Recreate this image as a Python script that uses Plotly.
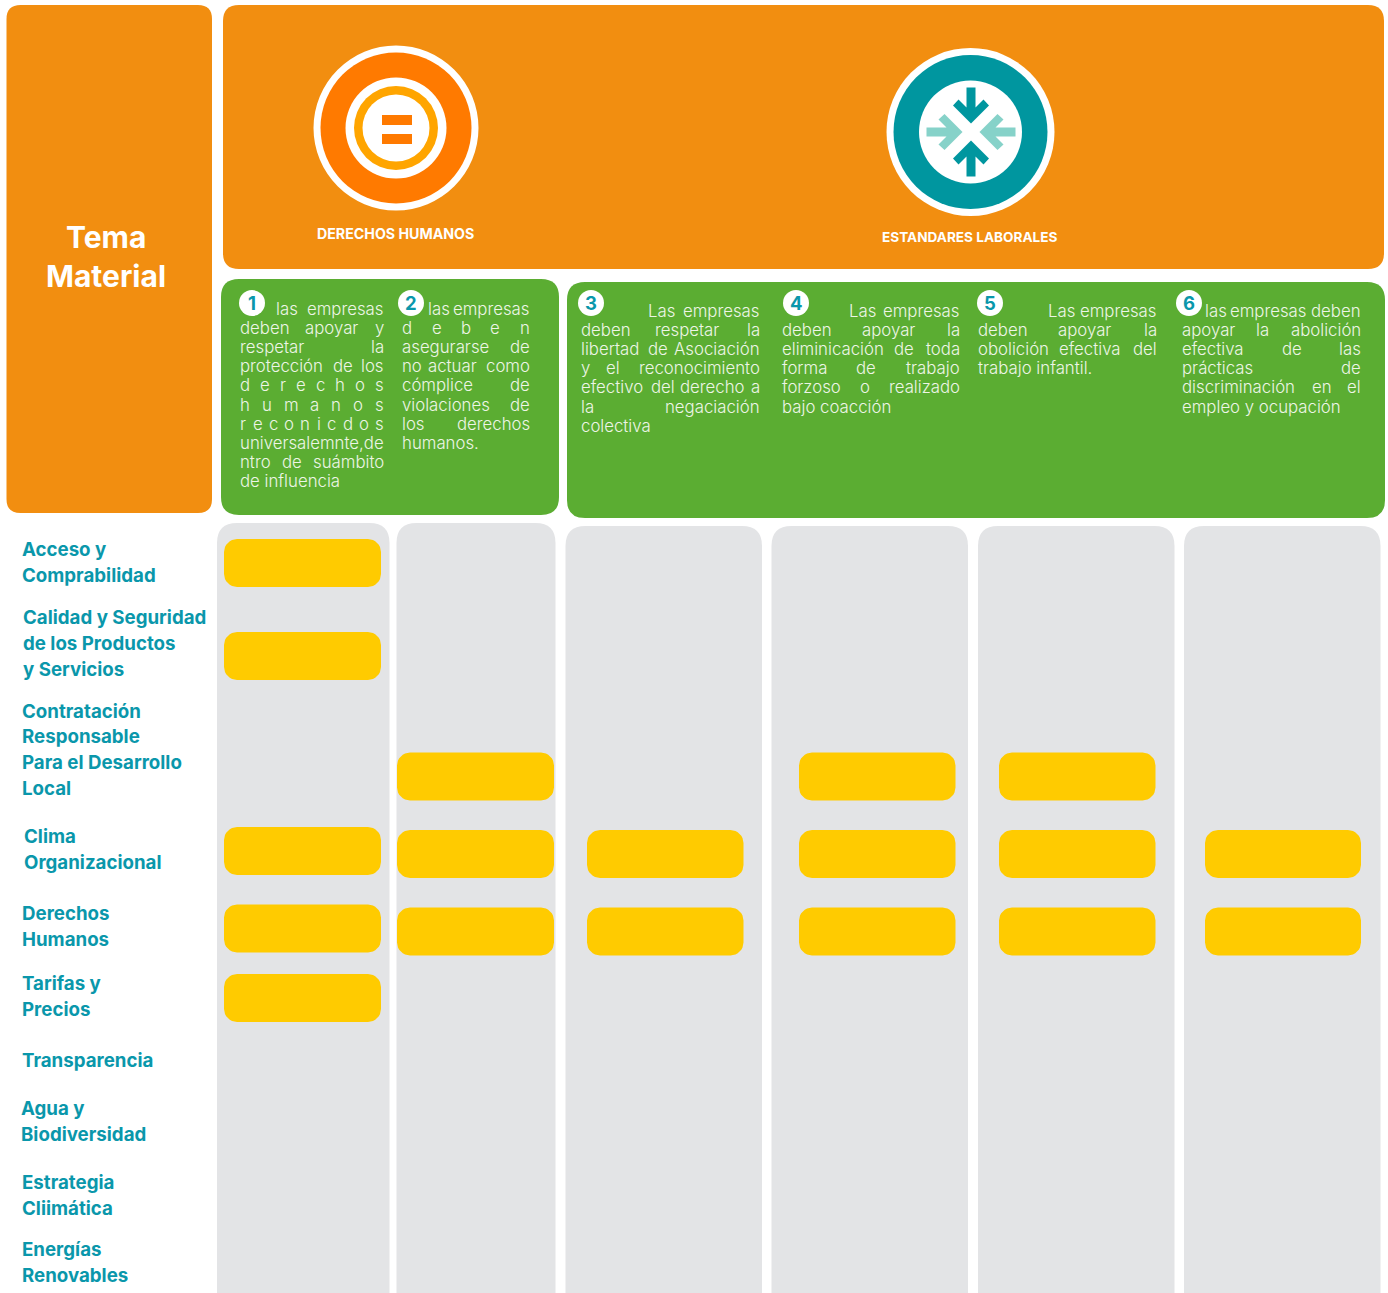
import math
import plotly.graph_objects as go

# ---------- data ----------
title_lines = ["Tema", "Material"]
groups = ["DERECHOS HUMANOS", "ESTANDARES LABORALES"]
topics = [
    ["Acceso y", "Comprabilidad"],
    ["Calidad y Seguridad", "de los Productos", "y Servicios"],
    ["Contratación", "Responsable", "Para el Desarrollo", "Local"],
    ["Clima", "Organizacional"],
    ["Derechos", "Humanos"],
    ["Tarifas y", "Precios"],
    ["Transparencia"],
    ["Agua y", "Biodiversidad"],
    ["Estrategia", "Cliimática"],
    ["Energías", "Renovables"],
]
principle_numbers = ["1", "2", "3", "4", "5", "6"]
principle_text = [
    ["las empresas", "deben apoyar y", "respetar la", "protección de los", "d e r e c h o s",
     "h u m a n o s", "r e c o n i c d o s", "universalemnte,de", "ntro de suámbito", "de influencia"],
    ["las empresas", "d e b e n", "asegurarse de", "no actuar como", "cómplice de",
     "violaciones de", "los derechos", "humanos."],
    ["Las empresas", "deben respetar la", "libertad de Asociación", "y el reconocimiento",
     "efectivo del derecho a", "la negaciación", "colectiva"],
    ["Las empresas", "deben apoyar la", "eliminicación de toda", "forma de trabajo",
     "forzoso o realizado", "bajo coacción"],
    ["Las empresas", "deben apoyar la", "obolición efectiva del", "trabajo infantil."],
    ["las empresas deben", "apoyar la abolición", "efectiva de las", "prácticas de",
     "discriminación en el", "empleo y ocupación"],
]
# topic indices marked under each principle
marked = [
    [0, 1, 3, 4, 5],
    [2, 3, 4],
    [3, 4],
    [2, 3, 4],
    [2, 3, 4],
    [3, 4],
]

# ---------- layout constants (pixels of the canvas) ----------
W, H = 1388, 1293
ORANGE, GREEN, GREY, YELLOW = "#F28E10", "#5BAD32", "#E3E4E6", "#FFCB00"
TEAL, LTEAL, HOT, AMBER = "#00969F", "#86D2C9", "#FF7A00", "#FFA500"
LABEL = "#0A97AB"
BODY_FONT = "Inter"
BODY_SIZE = 16.8

panels = [(6.5, 212, 5, 513, 14, ORANGE), (223, 1384, 5, 269, 16, ORANGE),
          (221, 559, 279, 515, 18, GREEN), (567, 1385, 282, 518, 18, GREEN)]
columns = [(217, 389.5, 523), (396.5, 555.5, 523), (565.5, 762, 526),
           (771.5, 968, 526), (978, 1174.5, 526), (1184, 1380.5, 526)]
pill_x = [(224, 381), (397, 554), (587, 743.5), (799, 955.5), (999, 1155.5), (1205, 1361)]
pill_top = [542, 635, 752.5, 830, 907.5, 977]
pill_dy = [-3, 0, 0, 0, 0, 0]
PILL_H, PILL_R = 48, 13

topic_x = [22, 23, 22, 24, 22, 22, 22, 20.5, 22, 22]
topic_y = [549, 617, 711, 836, 913, 983, 1060, 1108, 1182, 1249]
topic_step = [26, 26, 25.7, 26, 26, 26, 26, 26, 26, 26]

body_x = [(240, 384), (402, 529.5), (581, 759.5), (782, 959.5), (978, 1156.5), (1182, 1360.5)]
body_first = [276, 428, 648, 849, 1048, 1205]
body_y = [308.8, 308.8, 310.8, 310.8, 310.8, 310.8]
body_step = 19.15
badge_x = [252, 411, 591, 796, 990, 1189]
BADGE_Y, BADGE_R = 303, 13


def rrect_path(x0, x1, y0, y1, r):
    return (f"M{x0+r},{y0} L{x1-r},{y0} Q{x1},{y0} {x1},{y0+r} L{x1},{y1-r} Q{x1},{y1} {x1-r},{y1} "
            f"L{x0+r},{y1} Q{x0},{y1} {x0},{y1-r} L{x0},{y0+r} Q{x0},{y0} {x0+r},{y0} Z")


def rrect_xy(x0, x1, y0, y1, r):
    xs, ys = [], []
    corners = [(x1 - r, y0 + r, -90), (x1 - r, y1 - r, 0), (x0 + r, y1 - r, 90), (x0 + r, y0 + r, 180)]
    for cx, cy, a in corners:
        for k in range(9):
            t = math.radians(a + k * 90 / 8)
            xs.append(cx + r * math.cos(t))
            ys.append(cy + r * math.sin(t))
    return xs + [xs[0], None], ys + [ys[0], None]


def circle(cx, cy, r, color):
    return dict(type="circle", xref="x", yref="y", x0=cx - r, x1=cx + r, y0=cy - r, y1=cy + r,
                fillcolor=color, line_width=0, layer="below")


shapes = []
for x0, x1, y0, y1, r, c in panels:
    shapes.append(dict(type="path", path=rrect_path(x0, x1, y0, y1, r), fillcolor=c, line_width=0, layer="below"))
for x0, x1, y0 in columns:
    shapes.append(dict(type="path", path=rrect_path(x0, x1, y0, H + 40, 20), fillcolor=GREY, line_width=0, layer="below"))

# icon 1: equality
c1 = (396, 128)
for r, c in [(82.5, "white"), (75.5, HOT), (50.5, "white"), (42, AMBER), (33.5, "white")]:
    shapes.append(circle(*c1, r, c))
for y0, y1 in [(115, 125), (134, 144)]:
    shapes.append(dict(type="rect", x0=382, x1=412, y0=y0, y1=y1, fillcolor=HOT, line_width=0, layer="below"))

# icon 2: four arrows
c2 = (971, 132)
for r, c in [(84, "white"), (77, TEAL), (51.5, "white")]:
    shapes.append(circle(c2[0] - 0.5, c2[1], r, c))
arrow = [(-4.5, -44.5), (4.5, -44.5), (4.5, -24.5), (12.5, -32.5), (18, -26.5), (0, -8.5), (-18, -26.5), (-12.5, -32.5), (-4.5, -24.5)]
for turn, color in [(0, TEAL), (1, LTEAL), (2, TEAL), (3, LTEAL)]:
    pts = []
    for x, y in arrow:
        for _ in range(turn):
            x, y = -y, x
        pts.append((c2[0] + x, c2[1] + y))
    path = "M" + " L".join(f"{x},{y}" for x, y in pts) + " Z"
    shapes.append(dict(type="path", path=path, fillcolor=color, line_width=0, layer="below"))

# number badges
for x, y in zip(badge_x, [BADGE_Y] * 6):
    shapes.append(circle(x, y, BADGE_R, "white"))

# ---------- yellow cells, drawn from `marked` ----------
px, py = [], []
for col, rows in enumerate(marked):
    for row in rows:
        top = pill_top[row] + pill_dy[col]
        xs, ys = rrect_xy(pill_x[col][0], pill_x[col][1], top, top + PILL_H, PILL_R)
        px += xs
        py += ys

fig = go.Figure(go.Scatter(x=px, y=py, mode="lines", fill="toself", fillcolor=YELLOW,
                           line=dict(width=0, color=YELLOW), hoverinfo="skip", showlegend=False))

# ---------- text ----------
WIDTHS = dict(a=.56, b=.60, c=.56, d=.60, e=.58, f=.37, g=.60, h=.59, i=.24, j=.24, k=.54, l=.24, m=.87,
              n=.59, o=.60, p=.60, q=.60, r=.38, s=.53, t=.36, u=.59, v=.55, w=.82, x=.54, y=.55, z=.55)
ACC = str.maketrans("áéíóúñ", "aeioun")


def est(word):
    return sum(WIDTHS.get(ch, .28) for ch in word.lower().translate(ACC)) * BODY_SIZE


ann = []


def put(x, y, s, size, color="white", anchor="left", bold=False, font=BODY_FONT, weight=None):
    f = dict(family=font, size=size, color=color)
    if bold:
        f["weight"] = 700
    if weight:
        f["weight"] = weight
    ann.append(dict(x=x, y=y, xref="x", yref="y", text=s, showarrow=False, xanchor=anchor, yanchor="middle",
                    font=f, align=anchor, borderpad=0, borderwidth=0))


for t, y in zip(title_lines, [236.5, 275.5]):
    put(106, y, t, 30, anchor="center", bold=True)
put(395, 233.5, groups[0], 14.2, anchor="center", bold=True)
put(970, 236.5, groups[1], 13.6, anchor="center", bold=True)

for lines, x, y, step in zip(topics, topic_x, topic_y, topic_step):
    for i, line in enumerate(lines):
        put(x, y + i * step, line, 18.7, color=LABEL, bold=True)

for n, x in zip(principle_numbers, badge_x):
    put(x, BADGE_Y - 0.5, n, 18.5, color=LABEL, anchor="center", bold=True)

for col, lines in enumerate(principle_text):
    left, right = body_x[col]
    for i, line in enumerate(lines):
        y = body_y[col] + i * body_step
        words = line.split(" ")
        x0 = body_first[col] if i == 0 else left
        last = i == len(lines) - 1
        widths = [est(w) for w in words]
        if last or len(words) == 1:
            put(x0, y, line, BODY_SIZE, color="#EDF5E6", weight=300)
            continue
        gap = (right - x0 - sum(widths)) / (len(words) - 1)
        x = x0
        for j, (w, wd) in enumerate(zip(words, widths)):
            if j == len(words) - 1:
                put(right, y, w, BODY_SIZE, color="#EDF5E6", anchor="right", weight=300)
            else:
                put(x, y, w, BODY_SIZE, color="#EDF5E6", weight=300)
            x += wd + gap

fig.update_layout(
    width=W, height=H, autosize=False, margin=dict(l=0, r=0, t=0, b=0),
    paper_bgcolor="white", plot_bgcolor="white", showlegend=False,
    xaxis=dict(range=[0, W], visible=False, fixedrange=True),
    yaxis=dict(range=[H, 0], visible=False, fixedrange=True),
    shapes=shapes, annotations=ann,
)
fig.write_html("out.html", config=dict(displayModeBar=False),
               post_script="document.body.style.margin='0';document.documentElement.style.overflow='hidden';")
